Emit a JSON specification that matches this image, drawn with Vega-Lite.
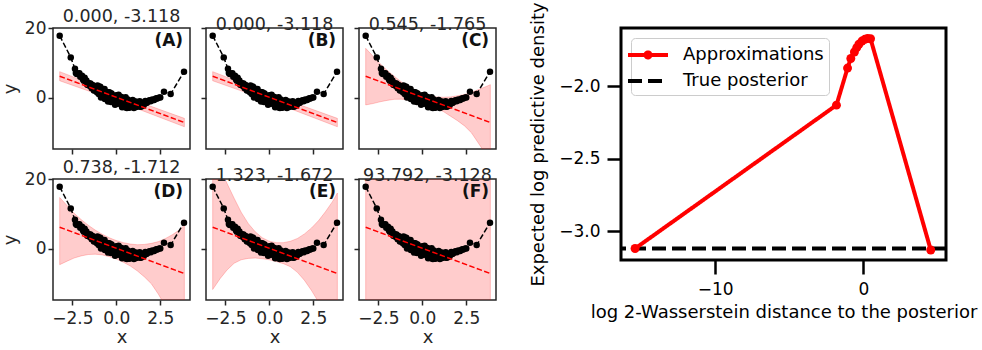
{
  "$schema": "https://vega.github.io/schema/vega-lite/v6.json",
  "background": "white",
  "padding": {"left": 0, "right": 0, "top": 0, "bottom": 0},
  "config": {
    "font": "DejaVu Sans",
    "view": {"stroke": "#262626", "strokeWidth": 1.5},
    "axis": {"grid": false, "domain": false, "tickColor": "#262626", "labelColor": "#262626", "titleColor": "#262626", "tickWidth": 1.5, "tickSize": 5, "labelFontSize": 17, "titleFontSize": 18, "titleFontWeight": "normal", "labelPadding": 2, "titlePadding": 5},
    "axisX": {"labelPadding": 5, "titlePadding": 2},
    "title": {"fontSize": 17.5, "fontWeight": "normal", "color": "#262626", "anchor": "middle", "frame": "group", "offset": -6}
  },
  "resolve": {"scale": {"color": "independent", "strokeDash": "independent"}, "legend": {"color": "independent", "strokeDash": "independent"}},
  "datasets": {
    "pts": [
      {"x": -3.22, "y": 17.8}, {"x": -2.59, "y": 11.6},
      {"x": -2.35, "y": 8.32}, {"x": -2.25, "y": 6.85}, {"x": -2.15, "y": 6.96}, {"x": -2.05, "y": 6.03}, {"x": -1.95, "y": 6.33}, {"x": -1.85, "y": 4.92}, {"x": -1.75, "y": 4.86}, {"x": -1.65, "y": 3.76}, {"x": -1.55, "y": 4.22}, {"x": -1.45, "y": 3.44},
      {"x": -1.35, "y": 3.68}, {"x": -1.25, "y": 2.17}, {"x": -1.15, "y": 2.89}, {"x": -1.05, "y": 1.66}, {"x": -0.95, "y": 3.27}, {"x": -0.85, "y": 0.45}, {"x": -0.75, "y": 1.51}, {"x": -0.65, "y": -0.3}, {"x": -0.55, "y": 1.54}, {"x": -0.45, "y": 0.15},
      {"x": -0.35, "y": 1.42}, {"x": -0.25, "y": -0.77}, {"x": -0.15, "y": 0.36}, {"x": -0.05, "y": -1.66}, {"x": 0.05, "y": 0.26}, {"x": 0.15, "y": -1.17}, {"x": 0.25, "y": 0.34}, {"x": 0.35, "y": -2.47}, {"x": 0.45, "y": -1.2}, {"x": 0.55, "y": -2.03},
      {"x": 0.65, "y": -0.47}, {"x": 0.75, "y": -2.67}, {"x": 0.85, "y": -1.41}, {"x": 0.95, "y": -2.37}, {"x": 1.05, "y": -1.07}, {"x": 1.15, "y": -2.1}, {"x": 1.25, "y": -1.41}, {"x": 1.35, "y": -2.46}, {"x": 1.45, "y": -1.51}, {"x": 1.55, "y": -2.08},
      {"x": 1.65, "y": -0.87}, {"x": 1.75, "y": -1.28}, {"x": 1.85, "y": -0.81}, {"x": 1.95, "y": -0.97}, {"x": 2.05, "y": -0.46}, {"x": 2.15, "y": -0.6}, {"x": 2.25, "y": -0.14}, {"x": 2.35, "y": -0.12}, {"x": 2.45, "y": 0.14},
      {"x": -2.3, "y": 7.15}, {"x": -2.1, "y": 7.08}, {"x": -1.9, "y": 5.31}, {"x": -1.7, "y": 4.97}, {"x": -1.5, "y": 3.4}, {"x": -1.3, "y": 3.27}, {"x": -1.1, "y": 1.65}, {"x": -0.9, "y": 3.1}, {"x": -0.7, "y": 0.96}, {"x": -0.5, "y": 1.68},
      {"x": -0.3, "y": -1.16}, {"x": -0.1, "y": 0.19}, {"x": 0.1, "y": -1.65}, {"x": 0.3, "y": 0.19}, {"x": 0.5, "y": -2.67}, {"x": 0.7, "y": -0.8}, {"x": 0.9, "y": -2.14}, {"x": 1.1, "y": -1.01}, {"x": 1.3, "y": -2.37}, {"x": 1.5, "y": -1.4},
      {"x": 1.7, "y": -1.47}, {"x": 1.9, "y": -0.67}, {"x": 2.1, "y": -0.58}, {"x": 2.3, "y": -0.13}, {"x": 2.5, "y": 0.16},
      {"x": -1.47, "y": 4.1}, {"x": -1.27, "y": 2.13}, {"x": -1.07, "y": 3.57}, {"x": -0.87, "y": 0.12}, {"x": -0.67, "y": 2.59}, {"x": -0.47, "y": -1.05}, {"x": -0.27, "y": 1.3}, {"x": -0.07, "y": -1.96},
      {"x": 0.13, "y": 0.88}, {"x": 0.33, "y": -2.64}, {"x": 0.53, "y": 0.19}, {"x": 0.73, "y": -2.83}, {"x": 0.93, "y": -0.61}, {"x": 1.13, "y": -2.58}, {"x": 1.33, "y": -0.91}, {"x": 1.53, "y": -2.15},
      {"x": -1.8, "y": 5.8}, {"x": -1.6, "y": 3.7}, {"x": -1.4, "y": 2.8}, {"x": -1.0, "y": 1.1}, {"x": -0.8, "y": 2.5}, {"x": -0.4, "y": 1.6}, {"x": 0.0, "y": 0.8}, {"x": 0.6, "y": -2.85}, {"x": 1.0, "y": -2.9}, {"x": 1.4, "y": -2.55},
      {"x": 2.71, "y": 1.8}, {"x": 3.09, "y": 1.1}, {"x": 3.85, "y": 7.5}
    ],
    "fit": [{"x": -3.22, "y": 6.22}, {"x": 3.87, "y": -7.04}],
    "band": [
      {"p": "AB", "x": -3.22, "lo": 4.92, "hi": 7.52}, {"p": "AB", "x": 0.3, "lo": -1.36, "hi": 0.64}, {"p": "AB", "x": 3.87, "lo": -8.24, "hi": -5.84},
      {"p": "C", "x": -3.22, "lo": -2.0, "hi": 14.2}, {"p": "C", "x": -2.8, "lo": -1.6, "hi": 11.9}, {"p": "C", "x": -2.4, "lo": -1.1, "hi": 9.8}, {"p": "C", "x": -2.0, "lo": -0.7, "hi": 7.9}, {"p": "C", "x": -1.6, "lo": -0.4, "hi": 6.2}, {"p": "C", "x": -1.2, "lo": -0.35, "hi": 4.6}, {"p": "C", "x": -0.8, "lo": -0.6, "hi": 3.3}, {"p": "C", "x": -0.4, "lo": -1.0, "hi": 2.2}, {"p": "C", "x": 0.0, "lo": -1.5, "hi": 1.3}, {"p": "C", "x": 0.4, "lo": -2.2, "hi": 0.7}, {"p": "C", "x": 0.8, "lo": -3.0, "hi": 0.3}, {"p": "C", "x": 1.2, "lo": -3.9, "hi": 0.2}, {"p": "C", "x": 1.6, "lo": -5.2, "hi": 0.3}, {"p": "C", "x": 2.0, "lo": -6.5, "hi": 0.6}, {"p": "C", "x": 2.4, "lo": -8.0, "hi": 1.0}, {"p": "C", "x": 2.8, "lo": -10.0, "hi": 1.6}, {"p": "C", "x": 3.2, "lo": -13.0, "hi": 2.4}, {"p": "C", "x": 3.6, "lo": -16.0, "hi": 3.2}, {"p": "C", "x": 3.87, "lo": -18.0, "hi": 3.8},
      {"p": "D", "x": -3.22, "lo": -4.5, "hi": 14.7}, {"p": "D", "x": -2.8, "lo": -3.5, "hi": 12.4}, {"p": "D", "x": -2.4, "lo": -2.6, "hi": 10.2}, {"p": "D", "x": -2.0, "lo": -2.0, "hi": 8.4}, {"p": "D", "x": -1.6, "lo": -1.6, "hi": 6.8}, {"p": "D", "x": -1.2, "lo": -1.5, "hi": 5.4}, {"p": "D", "x": -0.8, "lo": -1.7, "hi": 4.2}, {"p": "D", "x": -0.4, "lo": -2.2, "hi": 3.2}, {"p": "D", "x": 0.0, "lo": -2.9, "hi": 2.4}, {"p": "D", "x": 0.4, "lo": -3.8, "hi": 1.8}, {"p": "D", "x": 0.8, "lo": -4.9, "hi": 1.4}, {"p": "D", "x": 1.2, "lo": -6.3, "hi": 1.2}, {"p": "D", "x": 1.6, "lo": -8.0, "hi": 1.3}, {"p": "D", "x": 2.0, "lo": -10.0, "hi": 1.6}, {"p": "D", "x": 2.4, "lo": -13.0, "hi": 2.1}, {"p": "D", "x": 2.8, "lo": -16.5, "hi": 3.0}, {"p": "D", "x": 3.2, "lo": -20.0, "hi": 4.1}, {"p": "D", "x": 3.6, "lo": -24.0, "hi": 5.5}, {"p": "D", "x": 3.87, "lo": -27.0, "hi": 6.8},
      {"p": "E", "x": -3.22, "lo": -11.6, "hi": 27}, {"p": "E", "x": -2.8, "lo": -8.5, "hi": 23}, {"p": "E", "x": -2.4, "lo": -6.0, "hi": 18.7}, {"p": "E", "x": -2.0, "lo": -4.1, "hi": 14.5}, {"p": "E", "x": -1.6, "lo": -3.1, "hi": 10.5}, {"p": "E", "x": -1.2, "lo": -2.7, "hi": 7.3}, {"p": "E", "x": -0.8, "lo": -2.6, "hi": 4.9}, {"p": "E", "x": -0.4, "lo": -2.8, "hi": 3.2}, {"p": "E", "x": 0.0, "lo": -3.1, "hi": 2.2}, {"p": "E", "x": 0.4, "lo": -3.6, "hi": 1.8}, {"p": "E", "x": 0.8, "lo": -4.2, "hi": 1.8}, {"p": "E", "x": 1.2, "lo": -5.1, "hi": 2.2}, {"p": "E", "x": 1.6, "lo": -6.7, "hi": 3.0}, {"p": "E", "x": 2.0, "lo": -9.0, "hi": 4.3}, {"p": "E", "x": 2.4, "lo": -11.9, "hi": 6.0}, {"p": "E", "x": 2.8, "lo": -15.2, "hi": 8.1}, {"p": "E", "x": 3.2, "lo": -19.0, "hi": 10.7}, {"p": "E", "x": 3.6, "lo": -23.0, "hi": 13.6}, {"p": "E", "x": 3.87, "lo": -26.0, "hi": 16.0},
      {"p": "F", "x": -3.22, "lo": -100, "hi": 100}, {"p": "F", "x": 3.87, "lo": -100, "hi": 100}
    ],
    "elpd": [
      {"x": -15.4, "y": -3.118, "s": "Approximations"}, {"x": -1.82, "y": -2.131, "s": "Approximations"}, {"x": -1.07, "y": -1.876, "s": "Approximations"}, {"x": -0.85, "y": -1.81, "s": "Approximations"}, {"x": -0.607, "y": -1.765, "s": "Approximations"}, {"x": -0.45, "y": -1.735, "s": "Approximations"}, {"x": -0.304, "y": -1.712, "s": "Approximations"}, {"x": -0.1, "y": -1.69, "s": "Approximations"}, {"x": 0.1, "y": -1.678, "s": "Approximations"}, {"x": 0.28, "y": -1.672, "s": "Approximations"}, {"x": 0.48, "y": -1.674, "s": "Approximations"}, {"x": 4.541, "y": -3.128, "s": "Approximations"}
    ],
    "truth": [{"y": -3.118, "s": "True posterior"}]
  },
  "hconcat": [
    {
      "vconcat": [
        {
          "hconcat": [
            {
              "width": 137, "height": 121, "title": {"text": "0.000, -3.118"},
              "layer": [
                {"data": {"name": "band"}, "transform": [{"filter": "datum.p === 'AB'"}], "mark": {"type": "area", "clip": true, "color": "#ff0000", "fillOpacity": 0.2, "stroke": "#ff0000", "strokeOpacity": 0.2, "strokeWidth": 1},
                 "encoding": {"x": {"field": "x", "type": "quantitative", "scale": {"domain": [-3.6, 4.19], "nice": false, "zero": false}, "axis": {"values": [-2.5, 0, 2.5], "labels": false, "title": null}},
                              "y": {"field": "lo", "type": "quantitative", "scale": {"domain": [-14.6, 20], "nice": false, "zero": false}, "axis": {"values": [0, 20], "title": "y"}}, "y2": {"field": "hi"}}},
                {"data": {"name": "pts"}, "mark": {"type": "line", "color": "black", "strokeWidth": 1.5, "strokeDash": [5.5, 2.4]}, "encoding": {"x": {"field": "x", "type": "quantitative"}, "y": {"field": "y", "type": "quantitative"}}},
                {"data": {"name": "pts"}, "mark": {"type": "circle", "color": "black", "opacity": 1, "size": 42}, "encoding": {"x": {"field": "x", "type": "quantitative"}, "y": {"field": "y", "type": "quantitative"}}},
                {"data": {"name": "fit"}, "mark": {"type": "line", "color": "#ff0000", "strokeWidth": 1.5, "strokeDash": [5.5, 2.4]}, "encoding": {"x": {"field": "x", "type": "quantitative"}, "y": {"field": "y", "type": "quantitative"}}},
                {"data": {"values": [{}]}, "mark": {"type": "text", "text": "(A)", "align": "right", "baseline": "middle", "fontSize": 17, "fontWeight": "bold", "color": "#111111"}, "encoding": {"x": {"datum": 3.8}, "y": {"datum": 16.4}}}
              ]
            },
            {
              "width": 137, "height": 121, "title": {"text": "0.000, -3.118"},
              "layer": [
                {"data": {"name": "band"}, "transform": [{"filter": "datum.p === 'AB'"}], "mark": {"type": "area", "clip": true, "color": "#ff0000", "fillOpacity": 0.2, "stroke": "#ff0000", "strokeOpacity": 0.2, "strokeWidth": 1},
                 "encoding": {"x": {"field": "x", "type": "quantitative", "scale": {"domain": [-3.6, 4.19], "nice": false, "zero": false}, "axis": {"values": [-2.5, 0, 2.5], "labels": false, "title": null}},
                              "y": {"field": "lo", "type": "quantitative", "scale": {"domain": [-14.6, 20], "nice": false, "zero": false}, "axis": {"values": [0, 20], "labels": false, "title": null}}, "y2": {"field": "hi"}}},
                {"data": {"name": "pts"}, "mark": {"type": "line", "color": "black", "strokeWidth": 1.5, "strokeDash": [5.5, 2.4]}, "encoding": {"x": {"field": "x", "type": "quantitative"}, "y": {"field": "y", "type": "quantitative"}}},
                {"data": {"name": "pts"}, "mark": {"type": "circle", "color": "black", "opacity": 1, "size": 42}, "encoding": {"x": {"field": "x", "type": "quantitative"}, "y": {"field": "y", "type": "quantitative"}}},
                {"data": {"name": "fit"}, "mark": {"type": "line", "color": "#ff0000", "strokeWidth": 1.5, "strokeDash": [5.5, 2.4]}, "encoding": {"x": {"field": "x", "type": "quantitative"}, "y": {"field": "y", "type": "quantitative"}}},
                {"data": {"values": [{}]}, "mark": {"type": "text", "text": "(B)", "align": "right", "baseline": "middle", "fontSize": 17, "fontWeight": "bold", "color": "#111111"}, "encoding": {"x": {"datum": 3.8}, "y": {"datum": 16.4}}}
              ]
            },
            {
              "width": 137, "height": 121, "title": {"text": "0.545, -1.765"},
              "layer": [
                {"data": {"name": "band"}, "transform": [{"filter": "datum.p === 'C'"}], "mark": {"type": "area", "clip": true, "color": "#ff0000", "fillOpacity": 0.2, "stroke": "#ff0000", "strokeOpacity": 0.2, "strokeWidth": 1},
                 "encoding": {"x": {"field": "x", "type": "quantitative", "scale": {"domain": [-3.6, 4.19], "nice": false, "zero": false}, "axis": {"values": [-2.5, 0, 2.5], "labels": false, "title": null}},
                              "y": {"field": "lo", "type": "quantitative", "scale": {"domain": [-14.6, 20], "nice": false, "zero": false}, "axis": {"values": [0, 20], "labels": false, "title": null}}, "y2": {"field": "hi"}}},
                {"data": {"name": "pts"}, "mark": {"type": "line", "color": "black", "strokeWidth": 1.5, "strokeDash": [5.5, 2.4]}, "encoding": {"x": {"field": "x", "type": "quantitative"}, "y": {"field": "y", "type": "quantitative"}}},
                {"data": {"name": "pts"}, "mark": {"type": "circle", "color": "black", "opacity": 1, "size": 42}, "encoding": {"x": {"field": "x", "type": "quantitative"}, "y": {"field": "y", "type": "quantitative"}}},
                {"data": {"name": "fit"}, "mark": {"type": "line", "color": "#ff0000", "strokeWidth": 1.5, "strokeDash": [5.5, 2.4]}, "encoding": {"x": {"field": "x", "type": "quantitative"}, "y": {"field": "y", "type": "quantitative"}}},
                {"data": {"values": [{}]}, "mark": {"type": "text", "text": "(C)", "align": "right", "baseline": "middle", "fontSize": 17, "fontWeight": "bold", "color": "#111111"}, "encoding": {"x": {"datum": 3.8}, "y": {"datum": 16.4}}}
              ]
            }
          ],
          "spacing": 8
        },
        {
          "hconcat": [
            {
              "width": 137, "height": 121, "title": {"text": "0.738, -1.712"},
              "layer": [
                {"data": {"name": "band"}, "transform": [{"filter": "datum.p === 'D'"}], "mark": {"type": "area", "clip": true, "color": "#ff0000", "fillOpacity": 0.2, "stroke": "#ff0000", "strokeOpacity": 0.2, "strokeWidth": 1},
                 "encoding": {"x": {"field": "x", "type": "quantitative", "scale": {"domain": [-3.6, 4.19], "nice": false, "zero": false}, "axis": {"values": [-2.5, 0, 2.5], "format": ".1f", "title": "x"}},
                              "y": {"field": "lo", "type": "quantitative", "scale": {"domain": [-14.6, 20], "nice": false, "zero": false}, "axis": {"values": [0, 20], "title": "y"}}, "y2": {"field": "hi"}}},
                {"data": {"name": "pts"}, "mark": {"type": "line", "color": "black", "strokeWidth": 1.5, "strokeDash": [5.5, 2.4]}, "encoding": {"x": {"field": "x", "type": "quantitative"}, "y": {"field": "y", "type": "quantitative"}}},
                {"data": {"name": "pts"}, "mark": {"type": "circle", "color": "black", "opacity": 1, "size": 42}, "encoding": {"x": {"field": "x", "type": "quantitative"}, "y": {"field": "y", "type": "quantitative"}}},
                {"data": {"name": "fit"}, "mark": {"type": "line", "color": "#ff0000", "strokeWidth": 1.5, "strokeDash": [5.5, 2.4]}, "encoding": {"x": {"field": "x", "type": "quantitative"}, "y": {"field": "y", "type": "quantitative"}}},
                {"data": {"values": [{}]}, "mark": {"type": "text", "text": "(D)", "align": "right", "baseline": "middle", "fontSize": 17, "fontWeight": "bold", "color": "#111111"}, "encoding": {"x": {"datum": 3.8}, "y": {"datum": 16.4}}}
              ]
            },
            {
              "width": 137, "height": 121, "title": {"text": "1.323, -1.672"},
              "layer": [
                {"data": {"name": "band"}, "transform": [{"filter": "datum.p === 'E'"}], "mark": {"type": "area", "clip": true, "color": "#ff0000", "fillOpacity": 0.2, "stroke": "#ff0000", "strokeOpacity": 0.2, "strokeWidth": 1},
                 "encoding": {"x": {"field": "x", "type": "quantitative", "scale": {"domain": [-3.6, 4.19], "nice": false, "zero": false}, "axis": {"values": [-2.5, 0, 2.5], "format": ".1f", "title": "x"}},
                              "y": {"field": "lo", "type": "quantitative", "scale": {"domain": [-14.6, 20], "nice": false, "zero": false}, "axis": {"values": [0, 20], "labels": false, "title": null}}, "y2": {"field": "hi"}}},
                {"data": {"name": "pts"}, "mark": {"type": "line", "color": "black", "strokeWidth": 1.5, "strokeDash": [5.5, 2.4]}, "encoding": {"x": {"field": "x", "type": "quantitative"}, "y": {"field": "y", "type": "quantitative"}}},
                {"data": {"name": "pts"}, "mark": {"type": "circle", "color": "black", "opacity": 1, "size": 42}, "encoding": {"x": {"field": "x", "type": "quantitative"}, "y": {"field": "y", "type": "quantitative"}}},
                {"data": {"name": "fit"}, "mark": {"type": "line", "color": "#ff0000", "strokeWidth": 1.5, "strokeDash": [5.5, 2.4]}, "encoding": {"x": {"field": "x", "type": "quantitative"}, "y": {"field": "y", "type": "quantitative"}}},
                {"data": {"values": [{}]}, "mark": {"type": "text", "text": "(E)", "align": "right", "baseline": "middle", "fontSize": 17, "fontWeight": "bold", "color": "#111111"}, "encoding": {"x": {"datum": 3.8}, "y": {"datum": 16.4}}}
              ]
            },
            {
              "width": 137, "height": 121, "title": {"text": "93.792, -3.128"},
              "layer": [
                {"data": {"name": "band"}, "transform": [{"filter": "datum.p === 'F'"}], "mark": {"type": "area", "clip": true, "color": "#ff0000", "fillOpacity": 0.2, "stroke": "#ff0000", "strokeOpacity": 0.2, "strokeWidth": 1},
                 "encoding": {"x": {"field": "x", "type": "quantitative", "scale": {"domain": [-3.6, 4.19], "nice": false, "zero": false}, "axis": {"values": [-2.5, 0, 2.5], "format": ".1f", "title": "x"}},
                              "y": {"field": "lo", "type": "quantitative", "scale": {"domain": [-14.6, 20], "nice": false, "zero": false}, "axis": {"values": [0, 20], "labels": false, "title": null}}, "y2": {"field": "hi"}}},
                {"data": {"name": "pts"}, "mark": {"type": "line", "color": "black", "strokeWidth": 1.5, "strokeDash": [5.5, 2.4]}, "encoding": {"x": {"field": "x", "type": "quantitative"}, "y": {"field": "y", "type": "quantitative"}}},
                {"data": {"name": "pts"}, "mark": {"type": "circle", "color": "black", "opacity": 1, "size": 42}, "encoding": {"x": {"field": "x", "type": "quantitative"}, "y": {"field": "y", "type": "quantitative"}}},
                {"data": {"name": "fit"}, "mark": {"type": "line", "color": "#ff0000", "strokeWidth": 1.5, "strokeDash": [5.5, 2.4]}, "encoding": {"x": {"field": "x", "type": "quantitative"}, "y": {"field": "y", "type": "quantitative"}}},
                {"data": {"values": [{}]}, "mark": {"type": "text", "text": "(F)", "align": "right", "baseline": "middle", "fontSize": 17, "fontWeight": "bold", "color": "#111111"}, "encoding": {"x": {"datum": 3.8}, "y": {"datum": 16.4}}}
              ]
            }
          ],
          "spacing": 8
        }
      ],
      "spacing": 1
    },
    {
      "width": 325, "height": 232,
      "view": {"stroke": "black", "strokeWidth": 3},
      "layer": [
        {"data": {"name": "truth"}, "mark": {"type": "rule", "strokeWidth": 4},
         "encoding": {
           "y": {"field": "y", "type": "quantitative", "scale": {"domain": [-3.197, -1.6], "nice": false, "zero": false}, "axis": {"values": [-3, -2.5, -2], "format": ".1f", "title": "Expected log predictive density", "tickSize": 14, "tickWidth": 2.5, "tickColor": "black", "labelColor": "black", "titleColor": "black", "labelFontSize": 17, "titleFontSize": 18, "labelPadding": 7, "titlePadding": 11}},
           "color": {"field": "s", "type": "nominal", "scale": {"domain": ["Approximations", "True posterior"], "range": ["#ff0000", "#000000"]},
                     "legend": {"title": null, "orient": "top-left", "offset": 10, "padding": 5, "fillColor": "white", "strokeColor": "#cccccc", "cornerRadius": 4, "labelFontSize": 18, "labelColor": "black", "symbolType": "M-2,0H2", "symbolSize": 400, "symbolStrokeWidth": 4, "labelOffset": 23, "rowPadding": 3,
                                "encode": {"symbols": {"update": {"shape": [{"test": "datum.value === 'Approximations'", "value": "M-2,0H2M0.25,0A0.25,0.25,0,1,1,-0.25,0A0.25,0.25,0,1,1,0.25,0"}, {"value": "M-2,0H2"}]}}}}},
           "strokeDash": {"field": "s", "type": "nominal", "scale": {"domain": ["Approximations", "True posterior"], "range": [[1, 0], [14, 6]]},
                     "legend": {"title": null, "orient": "top-left", "offset": 10, "padding": 5, "fillColor": "white", "strokeColor": "#cccccc", "cornerRadius": 4, "labelFontSize": 18, "labelColor": "black", "symbolType": "M-2,0H2", "symbolSize": 400, "symbolStrokeWidth": 4, "labelOffset": 23, "rowPadding": 3,
                                "encode": {"symbols": {"update": {"shape": [{"test": "datum.value === 'Approximations'", "value": "M-2,0H2M0.25,0A0.25,0.25,0,1,1,-0.25,0A0.25,0.25,0,1,1,0.25,0"}, {"value": "M-2,0H2"}]}}}}}
         }},
        {"data": {"name": "elpd"}, "mark": {"type": "line", "strokeWidth": 4, "point": {"filled": true, "size": 80}},
         "encoding": {
           "x": {"field": "x", "type": "quantitative", "scale": {"domain": [-16.35, 5.57], "nice": false, "zero": false}, "axis": {"values": [-10, 0], "format": "d", "title": "log 2-Wasserstein distance to the posterior", "tickSize": 14, "tickWidth": 2.5, "tickColor": "black", "labelColor": "black", "titleColor": "black", "labelFontSize": 17, "titleFontSize": 18, "labelPadding": 7, "titlePadding": 6}},
           "y": {"field": "y", "type": "quantitative"},
           "color": {"field": "s", "type": "nominal"},
           "strokeDash": {"field": "s", "type": "nominal"}
         }}
      ]
    }
  ],
  "spacing": 31
}
